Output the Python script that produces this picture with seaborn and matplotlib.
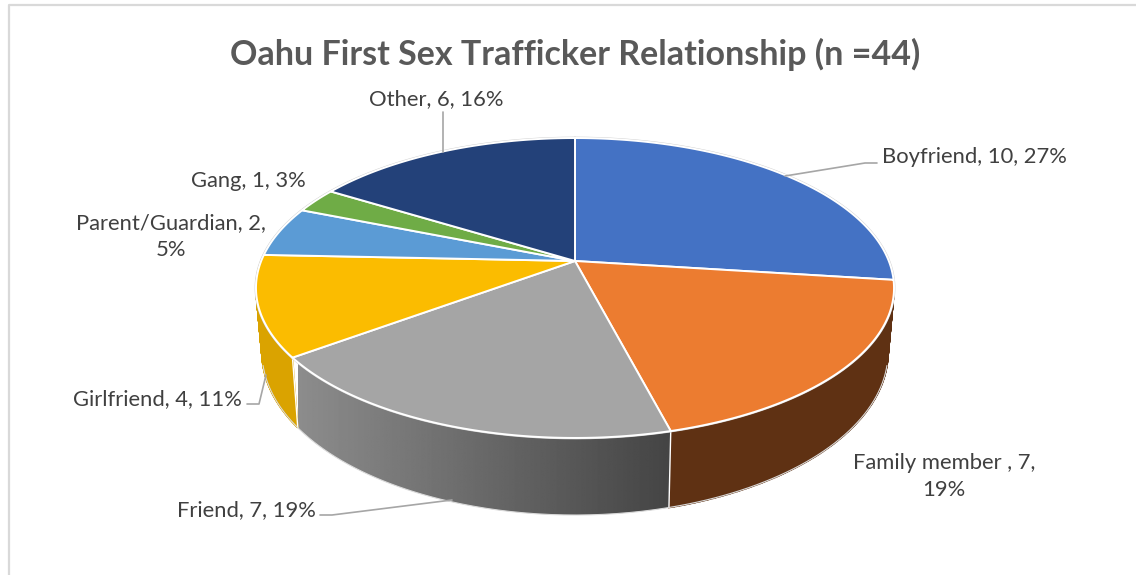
"""Oahu first sex trafficker relationship, drawn as a tilted 3D pie."""
import numpy as np
import matplotlib
matplotlib.use('Agg')
import matplotlib.pyplot as plt
from matplotlib.patches import Polygon
import seaborn as sns

categories = ['Boyfriend', 'Family member', 'Friend', 'Girlfriend', 'Parent/Guardian', 'Gang', 'Other']
counts = [10, 7, 7, 4, 2, 1, 6]
percents = [27, 19, 19, 11, 5, 3, 16]
top_colors = ['#4472C4', '#EC7C30', '#A5A5A5', '#FBBC00', '#5B9BD5', '#6FAC46', '#234179']
side_colors = {'Family member': '#5F3113', 'Girlfriend': '#DAA300'}
title = 'Oahu First Sex Trafficker Relationship (n =44)'

# perspective of the disc, in pixels (x, y, half width, half height)
TILT = 0.18
TOP_DISC = (575.0, 261.0, 313.8, 145.1)
BOTTOM_DISC = (575.0, 322.7, 307.9, 157.7)


def project(angle_deg, disc):
    # angle runs clockwise from 12 o'clock
    cx, cy, rx, ry = disc
    a = np.radians(angle_deg)
    w = 1 + TILT * np.cos(a)
    return cx + rx * np.sin(a) / w, cy - ry * np.cos(a) / w


sns.set_theme(style='white')
plt.rcParams['font.family'] = ['Lato', 'DejaVu Sans']

fig = plt.figure(figsize=(11.36, 5.75), dpi=100)
ax = fig.add_axes([0, 0, 1, 1])
ax.set_xlim(0, 1136)
ax.set_ylim(575, 0)
ax.axis('off')

palette = sns.color_palette(top_colors)
edges = np.cumsum([0] + counts) / sum(counts) * 360

# chart frame
ax.plot([8.5, 8.5, 1136], [575, 4.5, 4.5], color='#D9D9D9', lw=1.6, zorder=1)

# side walls first, the top face covers whatever sits behind it
grey_ramp = np.linspace(0.55, 0.27, 256).reshape(1, -1)
for i, name in enumerate(categories):
    if name != 'Friend' and name not in side_colors:
        continue
    theta = np.linspace(edges[i], edges[i + 1], 160)
    tx, ty = project(theta, TOP_DISC)
    bx, by = project(theta, BOTTOM_DISC)
    if name == 'Friend':
        verts = np.column_stack([np.r_[tx, bx[::-1]], np.r_[ty, by[::-1]]])
        wall = Polygon(verts, closed=True, fc='none', ec='none')
        ax.add_patch(wall)
        img = ax.imshow(grey_ramp, cmap='gray', vmin=0, vmax=1, aspect='auto', zorder=2,
                        extent=[bx.min(), bx.max(), by.max(), ty.min()])
        img.set_clip_path(wall)
        # only the friend wall has seams on both sides that face the viewer
        ax.plot([tx[0], bx[0]], [ty[0], by[0]], color='white', lw=1.0, zorder=2.5)
        ax.plot([tx[-1], bx[-1]], [ty[-1], by[-1]], color='white', lw=1.0, zorder=2.5)
    else:
        # sweep small quads so the wall reaches the silhouette of the disc
        for j in range(len(theta) - 1):
            ax.fill([tx[j], tx[j + 1], bx[j + 1], bx[j]], [ty[j], ty[j + 1], by[j + 1], by[j]],
                    facecolor=side_colors[name], edgecolor=side_colors[name], lw=1.2, zorder=2)

ax.set_xlim(0, 1136)
ax.set_ylim(575, 0)

# thin rim along the visible bottom edge and around the top face
ax.plot(*project(np.linspace(105, 255, 300), BOTTOM_DISC), color='#DADADA', lw=0.8, zorder=2.5)
ax.plot(*project(np.linspace(0, 360, 720), TOP_DISC), color='#CFCFCF', lw=2.0, zorder=2.8)

# top face
for i, name in enumerate(categories):
    theta = np.linspace(edges[i], edges[i + 1], 160)
    tx, ty = project(theta, TOP_DISC)
    ax.fill(np.r_[TOP_DISC[0], tx], np.r_[TOP_DISC[1], ty], facecolor=palette[i],
            edgecolor='white', lw=1.4, joinstyle='round', zorder=3)

# leader lines
leader = dict(color='#A6A6A6', lw=1.2, zorder=4, solid_joinstyle='round')
ax.plot([785, 865, 877], [176, 163, 163], **leader)
ax.plot([443, 443], [152, 112], **leader)
ax.plot([247, 259, 266], [404, 404, 375], **leader)
ax.plot([320, 332, 452], [515, 515, 500], **leader)

# labels
label_size = 15.8
label_color = '#404040'
ax.text(575, 65, title, ha='center', va='baseline', fontsize=24.5, fontweight='bold', color='#595959')


def label(x, y, i):
    ax.text(x, y, f'{categories[i]}, {counts[i]}, {percents[i]}%', ha='left', va='baseline',
            fontsize=label_size, color=label_color)


label(882, 163, 0)
ax.text(944, 496, f'{categories[1]} , {counts[1]},\n{percents[1]}%', ha='center', va='baseline',
        multialignment='center', fontsize=label_size, color=label_color, linespacing=1.45)
label(177, 516, 2)
label(73, 405, 3)
ax.text(171, 256, f'{categories[4]}, {counts[4]},\n{percents[4]}%', ha='center', va='baseline',
        multialignment='center', fontsize=label_size, color=label_color, linespacing=1.45)
label(191, 187, 5)
label(369, 105, 6)

fig.savefig('out.png', dpi=100)
